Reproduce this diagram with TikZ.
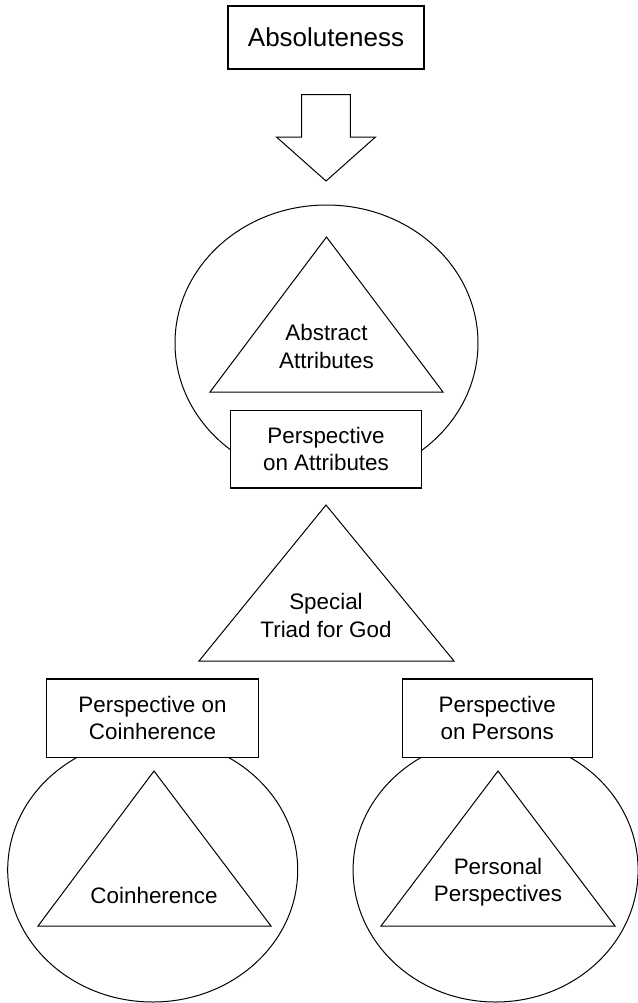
\documentclass[tikz,border=0pt]{standalone}
\usepackage{fontspec}
\setmainfont{Liberation Sans}
\usetikzlibrary{shapes.geometric}

\begin{document}
\begin{tikzpicture}[
    x=0.5pt, y=-0.5pt,
    box/.style={draw, fill=white, line width=0.65pt, align=center, inner sep=0pt, font=\fontsize{11.2}{13.6}\selectfont},
    oval/.style={draw, ellipse, line width=0.5pt, inner sep=0pt},
    tri/.style={draw, line width=0.5pt, line join=miter},
    txt/.style={align=center, inner sep=0pt, font=\fontsize{11.2}{13.6}\selectfont}
]
\useasboundingbox (0,0) rectangle (638,1003);

% top
\node[box, minimum width=98pt, minimum height=31.5pt, font=\fontsize{13}{15}\selectfont] (abs) at (326,37.5) {Absoluteness};
\draw[tri] (301.7,94.5) -- (350.3,94.5) -- (350.3,137) -- (375.5,137) -- (326,181) -- (276.5,137) -- (301.7,137) -- cycle;

% attributes
\node[oval, minimum width=151.5pt, minimum height=138pt] (attoval) at (326.5,343) {};
\draw[tri] (326.5,237) -- (443,392) -- (210,392) -- cycle;
\node[txt] (abstract) at (326.5,346.5) {Abstract\\Attributes};
\node[box, minimum width=95.5pt, minimum height=38.75pt] (attbox) at (326,449.3) {Perspective\\on Attributes};

% special triad
\draw[tri] (326,505) -- (454,661) -- (199,661) -- cycle;
\node[txt] (special) at (326,615.5) {Special\\Triad for God};

% coinherence
\node[oval, minimum width=145pt, minimum height=132pt] (coinoval) at (152.7,870) {};
\draw[tri] (154,771) -- (271,926) -- (38,926) -- cycle;
\node[txt] (coin) at (154,895.5) {Coinherence};
\node[box, minimum width=105.9pt, minimum height=39.25pt] (coinbox) at (152.5,718.3) {Perspective on\\Coinherence};

% persons
\node[oval, minimum width=142.5pt, minimum height=132pt] (persoval) at (495.6,870) {};
\draw[tri] (498,771) -- (615,926) -- (381,926) -- cycle;
\node[txt] (pers) at (498,882) {Personal\\Perspectives};
\node[box, minimum width=95pt, minimum height=39.25pt] (persbox) at (497.2,718.3) {Perspective\\on Persons};
\end{tikzpicture}
\end{document}
